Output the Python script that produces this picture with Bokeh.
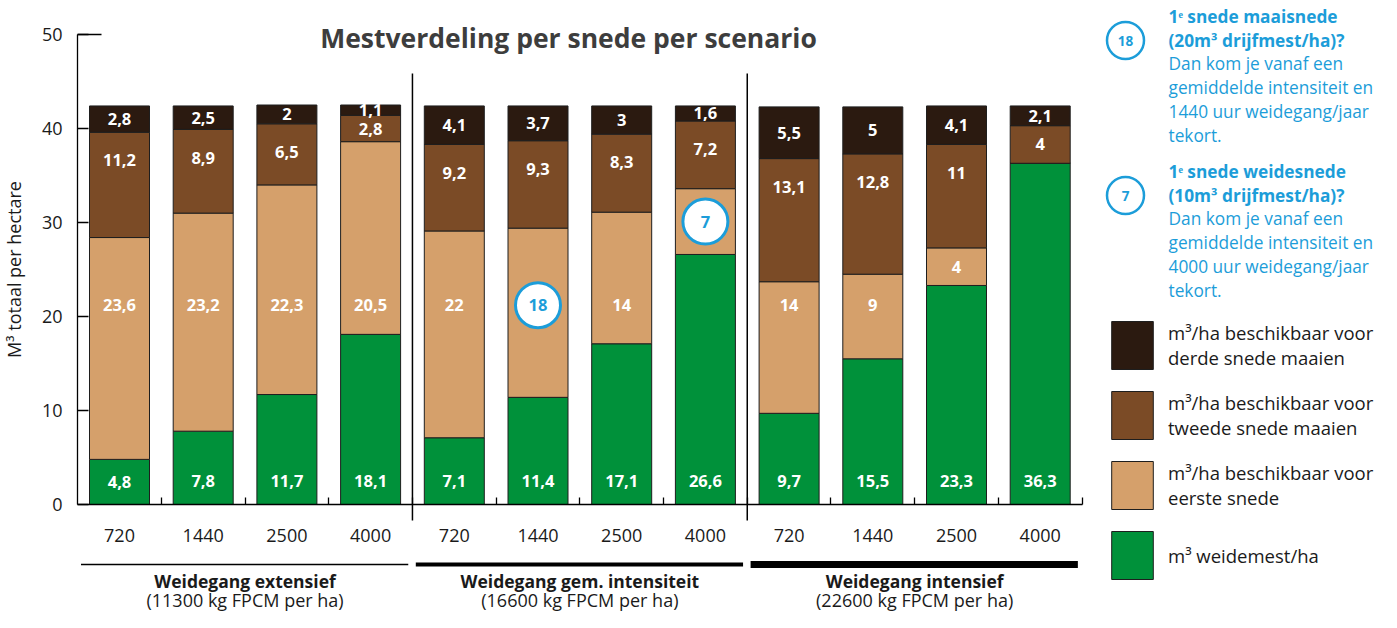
from bokeh.plotting import figure
from bokeh.models import Range1d, LinearAxis, FixedTicker, Legend, LegendItem, ColumnDataSource
from bokeh.core.properties import value
from bokeh.embed import file_html
from bokeh.resources import INLINE

# ---------------- data ----------------
hours = ["720", "1440", "2500", "4000", "720", "1440", "2500", "4000", "720", "1440", "2500", "4000"]
groups = ["Weidegang extensief", "Weidegang gem. intensiteit", "Weidegang intensief"]
group_sub = ["(11300 kg FPCM per ha)", "(16600 kg FPCM per ha)", "(22600 kg FPCM per ha)"]
weidemest = [4.8, 7.8, 11.7, 18.1, 7.1, 11.4, 17.1, 26.6, 9.7, 15.5, 23.3, 36.3]
eerste = [23.6, 23.2, 22.3, 20.5, 22, 18, 14, 7, 14, 9, 4, 0]
tweede = [11.2, 8.9, 6.5, 2.8, 9.2, 9.3, 8.3, 7.2, 13.1, 12.8, 11, 4]
derde = [2.8, 2.5, 2, 1.1, 4.1, 3.7, 3, 1.6, 5.5, 5, 4.1, 2.1]
circled = [5, 7]          # bars whose "eerste snede" value is shown in a circle
y_ticks = [0, 10, 20, 30, 40, 50]
legend_labels = ["m³/ha beschikbaar voor\nderde snede maaien",
                 "m³/ha beschikbaar voor\ntweede snede maaien",
                 "m³/ha beschikbaar voor\neerste snede",
                 "m³ weidemest/ha"]
title = "Mestverdeling per snede per scenario"
y_label = "M³ totaal per hectare"
note1 = ["1ᵉ snede maaisnede", "(20m³ drijfmest/ha)?", "Dan kom je vanaf een",
         "gemiddelde intensiteit en", "1440 uur weidegang/jaar", "tekort."]
note2 = ["1ᵉ snede weidesnede", "(10m³ drijfmest/ha)?", "Dan kom je vanaf een",
         "gemiddelde intensiteit en", "4000 uur weidegang/jaar", "tekort."]

# ---------------- style ----------------
GREEN, TAN, BROWN, DARK = "#00913a", "#d5a06b", "#7b4b26", "#2b1a10"
BLUE = "#1c9dd9"
INK = "#1a1a1a"
FONT = "Open Sans"
W, H = 1381, 612
X0, DX = 119, 83.7      # screen x of bar 0, px per bar
Y0, DY = 504, 9.4       # screen y of value 0, px per unit


def px(x):
    return (x - X0) / DX


def py(y):
    return (Y0 - y) / DY


p = figure(width=W, height=H,
           x_range=Range1d(px(0), px(W)), y_range=Range1d(py(H), py(0)),
           output_backend="svg", toolbar_location=None, min_border=0,
           x_axis_location=None, y_axis_location=None,
           outline_line_color=None, background_fill_color="white", border_fill_color="white")
p.grid.visible = False

n = len(hours)
src = ColumnDataSource(dict(x=list(range(n)), weidemest=weidemest, eerste=eerste,
                            tweede=tweede, derde=derde))
rs = p.vbar_stack(["weidemest", "eerste", "tweede", "derde"], x="x", width=60 / DX,
                  color=[GREEN, TAN, BROWN, DARK], line_color="#1e1e1e", line_width=1,
                  source=src)

# ---------------- axes ----------------
yax = LinearAxis(fixed_location=-0.5, bounds=(0, 50),
                 ticker=FixedTicker(ticks=y_ticks, minor_ticks=[]),
                 major_tick_in=11, major_tick_out=0, minor_tick_in=0, minor_tick_out=0,
                 major_label_standoff=15, major_label_text_font=FONT,
                 major_label_text_font_size="18px", major_label_text_color=INK,
                 axis_line_color="black", axis_line_width=1.3,
                 major_tick_line_color="black", major_tick_line_width=1.3,
                 axis_label=y_label, axis_label_text_font=FONT,
                 axis_label_text_font_size="18px", axis_label_text_font_style="normal",
                 axis_label_text_color=INK, axis_label_standoff=13)
p.add_layout(yax, "left")

xax = LinearAxis(fixed_location=0, bounds=(-0.5, n - 0.5),
                 ticker=FixedTicker(ticks=list(range(n)), minor_ticks=[i + 0.5 for i in range(n)]),
                 major_label_overrides={i: h for i, h in enumerate(hours)},
                 major_tick_in=0, major_tick_out=0, minor_tick_in=7, minor_tick_out=0,
                 major_label_standoff=24, major_label_text_font=FONT,
                 major_label_text_font_size="18px", major_label_text_color=INK,
                 axis_line_color="black", axis_line_width=1.3,
                 minor_tick_line_color="black", minor_tick_line_width=1.3)
p.add_layout(xax, "below")

# top cap of the y axis
p.segment(x0=[-0.5], y0=[y_ticks[-1]], x1=[px(101)], y1=[y_ticks[-1]], line_color="black", line_width=1.3)

# group separators
sep = [4 * g - 0.5 for g in range(1, len(groups))]
p.segment(x0=sep, y0=[py(520)] * len(sep), x1=sep, y1=[py(73)] * len(sep),
          line_color="black", line_width=1.5)

# group brackets + labels
gx = [4 * g + 1.5 for g in range(len(groups))]
for g, lw in zip(range(len(groups)), [1.5, 4, 7]):
    p.segment(x0=[4 * g - 0.46], y0=[py(564)], x1=[4 * g + 3.45], y1=[py(564)],
              line_color="black", line_width=lw, line_cap="butt")
p.text(gx, [py(580)] * 3, text=groups, text_font=value(FONT), text_font_style="bold",
       text_font_size="17.5px", text_align="center", text_baseline="middle", text_color=INK)
p.text(gx, [py(599)] * 3, text=group_sub, text_font=value(FONT),
       text_font_size="18px", text_align="center", text_baseline="middle", text_color=INK)

# ---------------- bar labels ----------------
def fmt(v):
    return f"{v:g}".replace(".", ",")


GREEN_LEVEL, TAN_LEVEL = 2.5, 21.2
lx, ly, lt = [], [], []
cx, cy, ct = [], [], []
for i in range(n):
    w, e, t, d = weidemest[i], eerste[i], tweede[i], derde[i]
    lx.append(i); ly.append(min(GREEN_LEVEL, w / 2)); lt.append(fmt(w))
    if e > 0:
        b, top = w, w + e
        yy = TAN_LEVEL if (b + 1.5 <= TAN_LEVEL <= top - 1.5) else (b + top) / 2
        if i in circled:
            cx.append(i); cy.append(yy); ct.append(fmt(e))
        else:
            lx.append(i); ly.append(yy); lt.append(fmt(e))
    b, top = w + e, w + e + t
    lx.append(i); ly.append(max(top - 3.0, (b + top) / 2)); lt.append(fmt(t))
    b, top = w + e + t, w + e + t + d
    lx.append(i); ly.append((b + top) / 2); lt.append(fmt(d))

p.text(lx, ly, text=lt, text_color="white", text_font=value(FONT), text_font_style="bold",
       text_font_size="16.5px", text_align="center", text_baseline="middle")
p.scatter(cx, cy, marker="circle", size=45, fill_color="white", line_color=BLUE, line_width=3)
p.text(cx, cy, text=ct, text_color=BLUE, text_font=value(FONT), text_font_style="bold",
       text_font_size="16.5px", text_align="center", text_baseline="middle")

# ---------------- title ----------------
p.text([px(568)], [py(37)], text=[title], text_font=value(FONT), text_font_style="bold",
       text_font_size="26.5px", text_color="#3d3d3d", text_align="center", text_baseline="middle")

# ---------------- notes (right, blue) ----------------
for k, (lines, circ, top) in enumerate([(note1, "18", 16), (note2, "7", 171)]):
    ys = [py(top + j * 23.7) for j in range(len(lines))]
    p.text([px(1168)] * 2, ys[:2], text=lines[:2], text_font=value(FONT), text_font_style="bold",
           text_font_size="17.3px", text_color=BLUE, text_baseline="middle", text_align="left")
    p.text([px(1168)] * (len(lines) - 2), ys[2:], text=lines[2:], text_font=value(FONT),
           text_font_size="17.3px", text_color=BLUE, text_baseline="middle", text_align="left")
    p.scatter([px(1125)], [py(top + 24)], marker="circle", size=37, fill_color="white",
              line_color=BLUE, line_width=2.5)
    p.text([px(1125)], [py(top + 24)], text=[circ], text_font=value(FONT), text_font_style="bold",
           text_font_size="13.5px", text_color=BLUE, text_align="center", text_baseline="middle")

# ---------------- legend ----------------
legend = Legend(items=[LegendItem(label=legend_labels[0], renderers=[rs[3]]),
                       LegendItem(label=legend_labels[1], renderers=[rs[2]]),
                       LegendItem(label=legend_labels[2], renderers=[rs[1]]),
                       LegendItem(label=legend_labels[3], renderers=[rs[0]])],
                location=(1106, 612 - 585), orientation="vertical",
                glyph_width=52, glyph_height=60, spacing=10, label_standoff=10,
                label_height=60, padding=0, margin=0,
                border_line_color=None, background_fill_alpha=0,
                label_text_font=FONT, label_text_font_size="18.5px",
                label_text_line_height=1.3, label_text_color=INK)
p.add_layout(legend)

open("out.html", "w").write(file_html(p, INLINE))
